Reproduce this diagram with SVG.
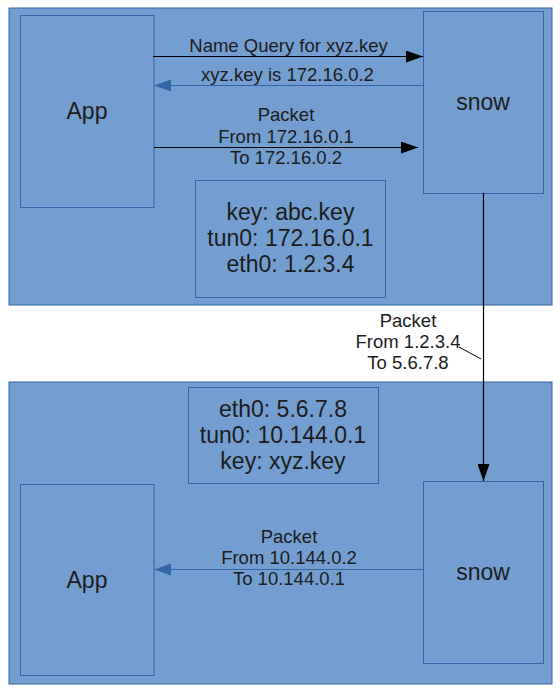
<svg xmlns="http://www.w3.org/2000/svg" width="560" height="694" viewBox="0 0 560 694">
<defs>
<style>
.box{fill:#729fcf;stroke:#3465a4;stroke-width:1}
.t{font-family:"Liberation Sans",Arial,sans-serif;fill:#1c1c1c;text-anchor:middle}
.big{font-size:23px}
.sm{font-size:18.5px}
.blk{stroke:#000;stroke-width:1.2;fill:none}
.blu{stroke:#3465a4;stroke-width:1.2;fill:none}
</style>
<marker id="ab" viewBox="0 0 17 12" refX="17" refY="6" markerWidth="17" markerHeight="12" markerUnits="userSpaceOnUse" orient="auto"><path d="M0,0 L17,6 L0,12 Z" fill="#000"/></marker>
<marker id="au" viewBox="0 0 17 12" refX="17" refY="6" markerWidth="17" markerHeight="12" markerUnits="userSpaceOnUse" orient="auto"><path d="M0,0 L17,6 L0,12 Z" fill="#3465a4"/></marker>
</defs>
<rect width="560" height="694" fill="#fff"/>
<g id="hostA"><rect class="box" x="9" y="8" width="543" height="297"/></g>
<g id="hostB"><rect class="box" x="9" y="382" width="543" height="302"/></g>
<g id="appA"><rect class="box" x="20.5" y="15.5" width="133.5" height="192"/><text class="t big" x="87" y="119">App</text></g>
<g id="snowA"><rect class="box" x="423.5" y="11.5" width="120" height="182"/><text class="t big" x="483" y="110">snow</text></g>
<g id="infoA"><rect class="box" x="195.5" y="180.5" width="190" height="117"/><text class="t big" x="290.5" y="220">key: abc.key</text><text class="t big" x="290.5" y="246">tun0: 172.16.0.1</text><text class="t big" x="290.5" y="272">eth0: 1.2.3.4</text></g>
<g id="infoB"><rect class="box" x="188.5" y="387.5" width="190" height="96"/><text class="t big" x="283" y="417">eth0: 5.6.7.8</text><text class="t big" x="283" y="443">tun0: 10.144.0.1</text><text class="t big" x="283" y="469">key: xyz.key</text></g>
<g id="appB"><rect class="box" x="20.5" y="484.5" width="133.5" height="191"/><text class="t big" x="87" y="588">App</text></g>
<g id="snowB"><rect class="box" x="423.5" y="481.5" width="120" height="182"/><text class="t big" x="483" y="580">snow</text></g>
<g id="connectors">
<line class="blk" x1="153" y1="56.5" x2="423" y2="56.5" marker-end="url(#ab)"/>
<text class="t sm" x="288.5" y="52">Name Query for xyz.key</text>
<line class="blu" x1="423" y1="85.5" x2="154" y2="85.5" marker-end="url(#au)"/>
<text class="t sm" x="287.5" y="81">xyz.key is 172.16.0.2</text>
<line class="blk" x1="154" y1="147.5" x2="418" y2="147.5" marker-end="url(#ab)"/>
<text class="t sm" x="286" y="121">Packet</text>
<text class="t sm" x="286" y="143">From 172.16.0.1</text>
<text class="t sm" x="286" y="164">To 172.16.0.2</text>
<line class="blk" x1="483.5" y1="193" x2="483.5" y2="481" marker-end="url(#ab)"/>
<text class="t sm" x="408" y="327">Packet</text>
<text class="t sm" x="408" y="348">From 1.2.3.4</text>
<text class="t sm" x="408" y="369">To 5.6.7.8</text>
<line stroke="#000" stroke-width="1" x1="459" y1="347" x2="481" y2="359"/>
<line class="blu" x1="423" y1="569.5" x2="154" y2="569.5" marker-end="url(#au)"/>
<text class="t sm" x="289" y="543">Packet</text>
<text class="t sm" x="289" y="564">From 10.144.0.2</text>
<text class="t sm" x="289" y="585">To 10.144.0.1</text>
</g>
</svg>
